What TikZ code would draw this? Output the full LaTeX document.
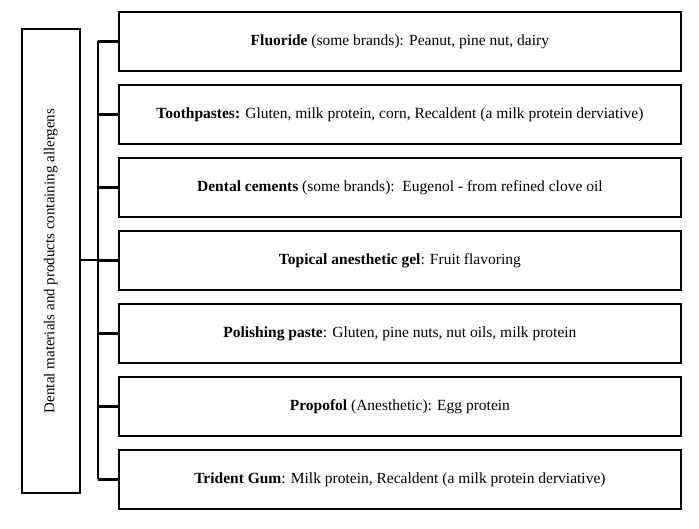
\documentclass[tikz,border=0pt]{standalone}
\usepackage{fontspec}
\setmainfont{Liberation Serif}
\begin{document}
\begin{tikzpicture}[x=1pt,y=-1pt,
  box/.style={draw,line width=1.8pt,minimum width=562pt,minimum height=59pt,anchor=north west,inner sep=0pt,font=\fontsize{15.5}{17}\selectfont},
  ln/.style={line width=2.2pt}]
\useasboundingbox (0,0) rectangle (699,528);
\node[draw,line width=1.8pt,minimum width=58pt,minimum height=464pt,anchor=north west,inner sep=0pt] (L) at (21,28) {};
\node[rotate=90,font=\fontsize{15}{17}\selectfont] at (L.center) {Dental materials and products containing allergens};
\node[box] (b1) at (118,11) {\textbf{Fluoride} (some brands): Peanut, pine nut, dairy};
\node[box] (b2) at (118,84) {\textbf{Toothpastes:} Gluten, milk protein, corn, Recaldent (a milk protein derviative)};
\node[box] (b3) at (118,157) {\textbf{Dental cements} (some brands):\ \ Eugenol - from refined clove oil};
\node[box] (b4) at (118,230) {\textbf{Topical anesthetic gel}: Fruit flavoring};
\node[box] (b5) at (118,303) {\textbf{Polishing paste}: Gluten, pine nuts, nut oils, milk protein};
\node[box] (b6) at (118,376) {\textbf{Propofol} (Anesthetic): Egg protein};
\node[box] (b7) at (118,449) {\textbf{Trident Gum}: Milk protein, Recaldent (a milk protein derviative)};
\coordinate (s) at (98,260);
\draw[ln] (L.east |- s) -- (s);
\draw[ln] (b1.west -| s) -- (b7.west -| s);
\foreach \i in {1,...,7} \draw[ln] (b\i.west -| s) -- (b\i.west);
\end{tikzpicture}
\end{document}
